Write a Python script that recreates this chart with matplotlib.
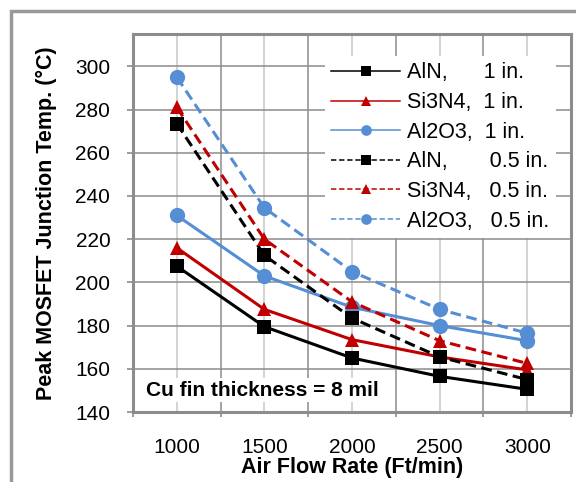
import matplotlib
matplotlib.use('Agg')
import matplotlib.pyplot as plt
from matplotlib.patches import Rectangle

plt.rcParams['font.family'] = ['Liberation Sans', 'DejaVu Sans']

# air flow categories and peak junction temperatures (deg C)
flow = ['1000', '1500', '2000', '2500', '3000']
aln_1in = [207.5, 179.5, 165.0, 156.5, 150.5]
si3n4_1in = [216.0, 187.5, 173.5, 165.5, 159.5]
al2o3_1in = [231.0, 203.0, 188.5, 180.0, 173.0]
aln_05in = [273.5, 212.5, 183.5, 165.5, 155.0]
si3n4_05in = [281.0, 220.0, 191.0, 173.0, 162.5]
al2o3_05in = [295.0, 234.5, 205.0, 187.5, 176.5]
labels = ['AlN,      1 in.', 'Si3N4,  1 in.', 'Al2O3,  1 in.',
          'AlN,       0.5 in.', 'Si3N4,   0.5 in.', 'Al2O3,   0.5 in.']
yticks = [140, 160, 180, 200, 220, 240, 260, 280, 300]

black, red, blue = '#000000', '#C00000', '#558ED5'
gray, light = '#8C8C8C', '#C8C8C8'

W, H = 576, 482
fig = plt.figure(figsize=(W / 100, H / 100), dpi=100)
# outer chart border (cropped at the right and bottom)
fig.patches.append(Rectangle((11 / W, -0.1), 1.2, 1.1 - 11 / H, transform=fig.transFigure,
                             fill=False, edgecolor='#999999', lw=2.5))

ax = fig.add_axes([133 / W, 1 - 412 / H, (571 - 133) / W, (412 - 34) / H])
x = list(range(len(flow)))

series = [(aln_1in, black, 's', '-'), (si3n4_1in, red, '^', '-'), (al2o3_1in, blue, 'o', '-'),
          (aln_05in, black, 's', '--'), (si3n4_05in, red, '^', '--'), (al2o3_05in, blue, 'o', '--')]
msize = {'s': 9.5, '^': 10.5, 'o': 11}
for (vals, c, m, ls), lab in zip(series, labels):
    ln, = ax.plot(x, vals, color=c, marker=m, ms=msize[m], mew=0, lw=2.2, label=lab, zorder=3)
    if ls == '--':
        ln.set_dashes((3.5, 1.8))

ax.set_xlim(-0.5, len(flow) - 0.5)
ax.set_ylim(140, 315)
ax.set_xticks(x)
ax.set_xticklabels(flow)
ax.set_xticks([i - 0.5 for i in range(len(flow) + 1)], minor=True)
ax.set_yticks(yticks)
ax.tick_params(axis='x', which='major', length=0, pad=19, labelsize=15)
ax.tick_params(axis='x', which='minor', direction='out', length=3.6, width=1.2, color=gray)
ax.tick_params(axis='y', which='major', direction='out', length=4.3, width=1.2, color=gray,
               pad=12, labelsize=15)

ax.grid(axis='y', which='major', color=gray, lw=1.1, zorder=0)
ax.grid(axis='x', which='major', color=light, lw=1.1, zorder=0)
ax.grid(axis='x', which='minor', color=gray, lw=1.1, zorder=0)
ax.set_axisbelow(True)
for s in ax.spines.values():
    s.set_color(gray)
    s.set_linewidth(2.2)

ax.set_xlabel('Air Flow Rate (Ft/min)', fontsize=15.5, fontweight='bold', labelpad=0)
ax.set_ylabel('Peak MOSFET Junction Temp. (°C)', fontsize=15.5, fontweight='bold', labelpad=13)

ax.text(0.03, 0.058, 'Cu fin thickness = 8 mil', transform=ax.transAxes, fontsize=15,
        fontweight='bold', va='center', ha='left', zorder=4,
        bbox=dict(facecolor='white', edgecolor='none', pad=2))

leg = ax.legend(loc='upper left', bbox_to_anchor=(0.438, 0.9418), fontsize=15.5, frameon=True,
                facecolor='white', edgecolor='none', framealpha=1, fancybox=False,
                borderpad=0.3, borderaxespad=0, handlelength=3.2, handletextpad=0.33,
                labelspacing=0.4, markerscale=0.7)
for ln in leg.get_lines():
    ln.set_linewidth(1.1)

fig.savefig('out.png', dpi=100)
